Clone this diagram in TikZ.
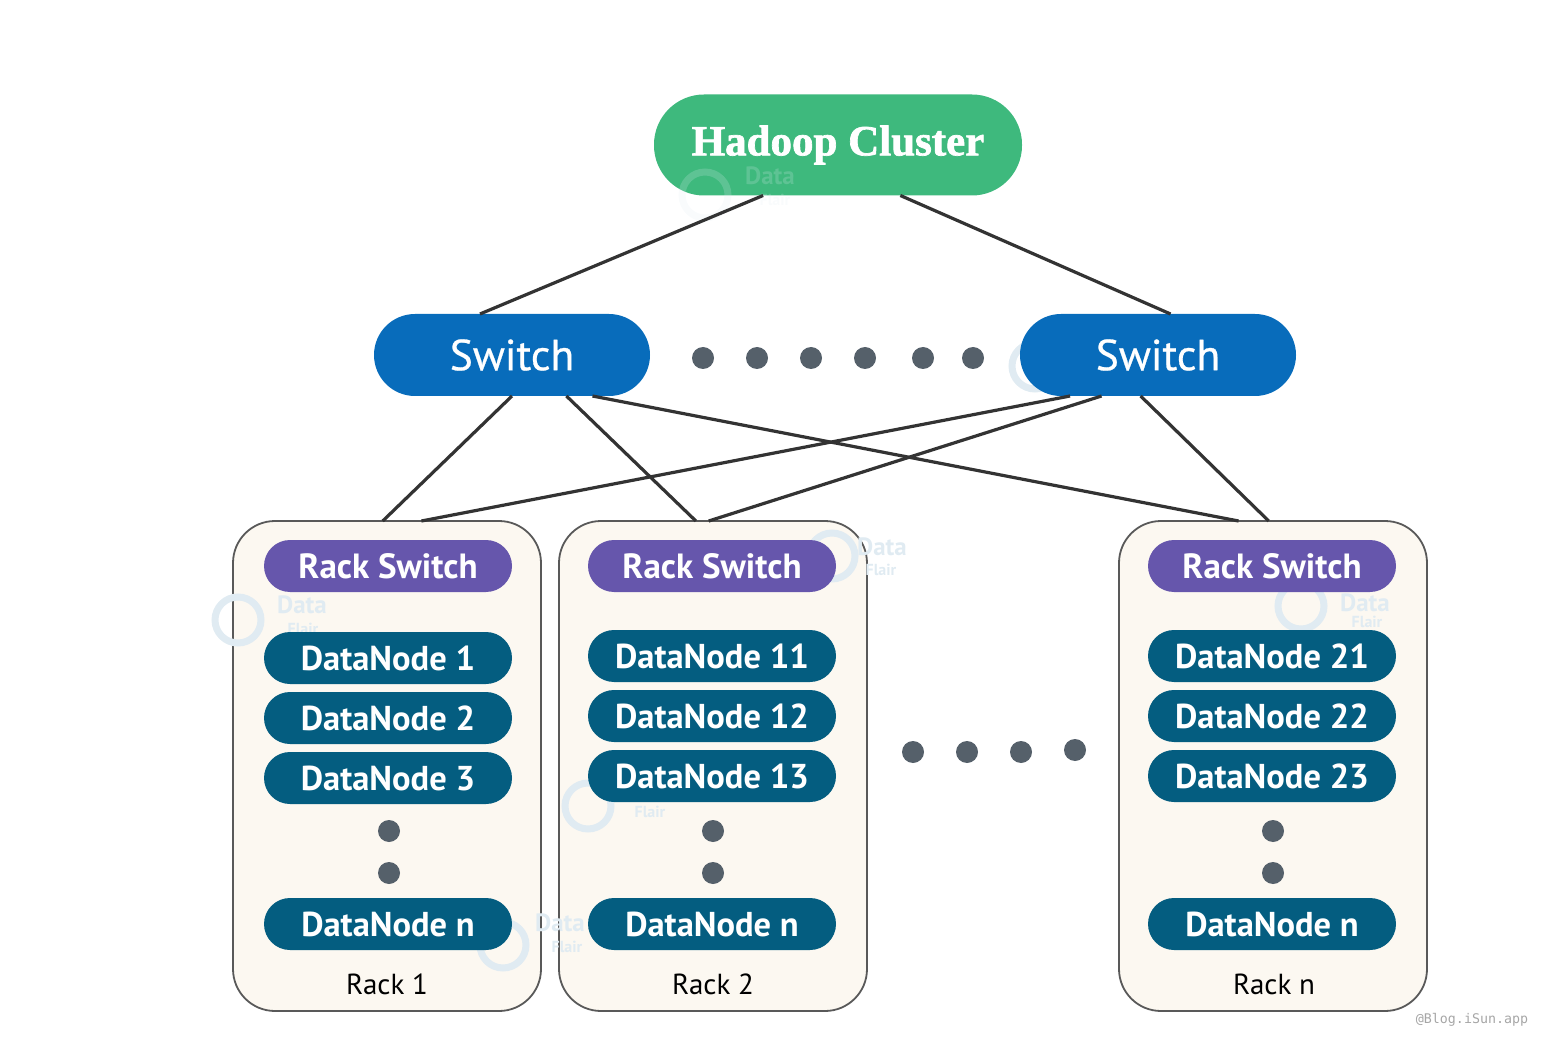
\documentclass[tikz,border=0pt]{standalone}
\usepackage{fontspec}
\setmainfont{PT Sans}
\newfontfamily\titlefont[BoldFeatures={FakeBold=1.6}]{Liberation Serif}
\newfontfamily\switchfont[FakeBold=0.6]{PT Sans}
\newfontfamily\stampfont{DejaVu Sans Mono}
\definecolor{c3eb97d}{RGB}{62,185,125}
\definecolor{c0a6dbb}{RGB}{8,108,187}
\definecolor{c6656ac}{RGB}{102,86,172}
\definecolor{c045d80}{RGB}{4,93,128}
\definecolor{cfbf7f0}{RGB}{252,248,241}
\definecolor{c55606a}{RGB}{85,96,106}
\definecolor{cdce9f1}{RGB}{224,235,242}
\tikzset{
  pill/.style={rectangle,rounded corners=#1,text=white,inner sep=0pt,outer sep=0pt},
  topbox/.style={pill=50pt,fill=c3eb97d,minimum width=368pt,minimum height=101pt,
    font=\titlefont\fontsize{43}{43}\selectfont\bfseries},
  swbox/.style={pill=41pt,fill=c0a6dbb,minimum width=276pt,minimum height=82pt,
    font=\switchfont\fontsize{43.5}{43.5}\selectfont},
  rackbox/.style={rectangle,rounded corners=42pt,draw=black!65,line width=1.8pt,fill=cfbf7f0,
    minimum width=308pt,minimum height=490pt,inner sep=0pt,outer sep=0pt},
  rswbox/.style={pill=26pt,fill=c6656ac,minimum width=248pt,minimum height=52pt,
    font=\fontsize{35}{35}\selectfont\bfseries},
  dnbox/.style={pill=26pt,fill=c045d80,minimum width=248pt,minimum height=52pt,
    font=\fontsize{34.5}{34.5}\selectfont\bfseries},
  dotnode/.style={circle,fill=c55606a,minimum size=22pt,inner sep=0pt},
  link/.style={draw=black!80,line width=3.2pt},
  marktext/.style={text=cdce9f1,inner sep=0pt,font=\bfseries\fontsize{25}{20}\selectfont},
  flairtext/.style={text=cdce9f1,inner sep=0pt,font=\bfseries\fontsize{16}{16}\selectfont},
  markring/.style={circle,draw=cdce9f1,line width=7pt,minimum size=46pt,inner sep=0pt}
}
\begin{document}
\begin{tikzpicture}[x=1pt,y=-1pt]
  \useasboundingbox (0,0) rectangle (1548,1048);
  % racks
  \node[rackbox] (rack1) at (387,766) {};
  \node[rackbox] (rack2) at (713,766) {};
  \node[rackbox] (rack3) at (1273,766) {};
  % faint marks
  \foreach \i/\mx/\my in {2/238/620,3/832/556,4/1301/606,5/588/806,6/503/945,7/1035/366}
    \node[markring] (ring\i) at (\mx,\my) {};
  \node[marktext] (data2) at (302,605) {Data};
  \node[flairtext] (flair2) at (303,629) {Flair};
  \node[marktext] (data3) at (882,547) {Data};
  \node[flairtext] (flair3) at (881,570) {Flair};
  \node[marktext] (data4) at (1365,603) {Data};
  \node[flairtext] (flair4) at (1367,622) {Flair};
  \node[flairtext] (flair5) at (650,812) {Flair};
  \node[marktext] (data6) at (560,923) {Data};
  \node[flairtext] (flair6) at (567,947) {Flair};
  % top
  \node[topbox] (cluster) at (838,145) {Hadoop Cluster};
  \node[swbox] (switch1) at (512,355) {Switch};
  \node[swbox] (switch2) at (1158,355) {Switch};
  \begin{scope}[opacity=0.2]
    \node[markring] (ring1) at (705,195) {};
    \node[marktext] (data1) at (770,176) {Data};
    \node[flairtext] (flair1) at (775,200) {Flair};
  \end{scope}
  % links
  \path[link] (cluster.-146.7) -- (switch1.128.7);
  \path[link] (cluster.-39.8) -- (switch2.73.7);
  \path[link] (switch1.south) -- (rack1.91.2);
  \path[link] (switch1.-37.2) -- (rack2.94.4);
  \path[link] (switch1.-27.7) -- (rack3.98.4);
  \path[link] (switch2.-155) -- (rack1.82.3);
  \path[link] (switch2.-144.7) -- (rack2.91.4);
  \path[link] (switch2.-113.7) -- (rack3.91.4);
  % rack 1
  \node[rswbox] (rsw1) at (388,566) {Rack Switch};
  \node[dnbox] (dn1) at (388,658) {DataNode 1};
  \node[dnbox] (dn2) at (388,718) {DataNode 2};
  \node[dnbox] (dn3) at (388,778) {DataNode 3};
  \node[dnbox] (dn4) at (388,924) {DataNode n};
  % rack 2
  \node[rswbox] (rsw2) at (712,566) {Rack Switch};
  \node[dnbox] (dn11) at (712,656) {DataNode 11};
  \node[dnbox] (dn12) at (712,716) {DataNode 12};
  \node[dnbox] (dn13) at (712,776) {DataNode 13};
  \node[dnbox] (dn14) at (712,924) {DataNode n};
  % rack n
  \node[rswbox] (rsw3) at (1272,566) {Rack Switch};
  \node[dnbox] (dn21) at (1272,656) {DataNode 21};
  \node[dnbox] (dn22) at (1272,716) {DataNode 22};
  \node[dnbox] (dn23) at (1272,776) {DataNode 23};
  \node[dnbox] (dn24) at (1272,924) {DataNode n};
  % dots
  \foreach \i/\dx in {1/703,2/757,3/811,4/865,5/923,6/973}
    \node[dotnode] (top\i) at (\dx,358) {};
  \foreach \i/\dx/\dy in {1/913/752,2/967/752,3/1021/752,4/1075/750}
    \node[dotnode] (mid\i) at (\dx,\dy) {};
  \foreach \i/\dx in {1/389,2/713,3/1273}{
    \node[dotnode] (upper\i) at (\dx,831) {};
    \node[dotnode] (lower\i) at (\dx,873) {};
  }
  % labels
  \node[inner sep=0pt,font=\fontsize{29}{29}\selectfont] (lab1) at (387,984) {Rack 1};
  \node[inner sep=0pt,font=\fontsize{29}{29}\selectfont] (lab2) at (713,984) {Rack 2};
  \node[inner sep=0pt,font=\fontsize{29}{29}\selectfont] (lab3) at (1274,984) {Rack n};
  \node[inner sep=0pt,text=black!35,font=\stampfont\fontsize{13.3}{14}\selectfont] (stamp) at (1472,1020) {@Blog.iSun.app};
\end{tikzpicture}
\end{document}
